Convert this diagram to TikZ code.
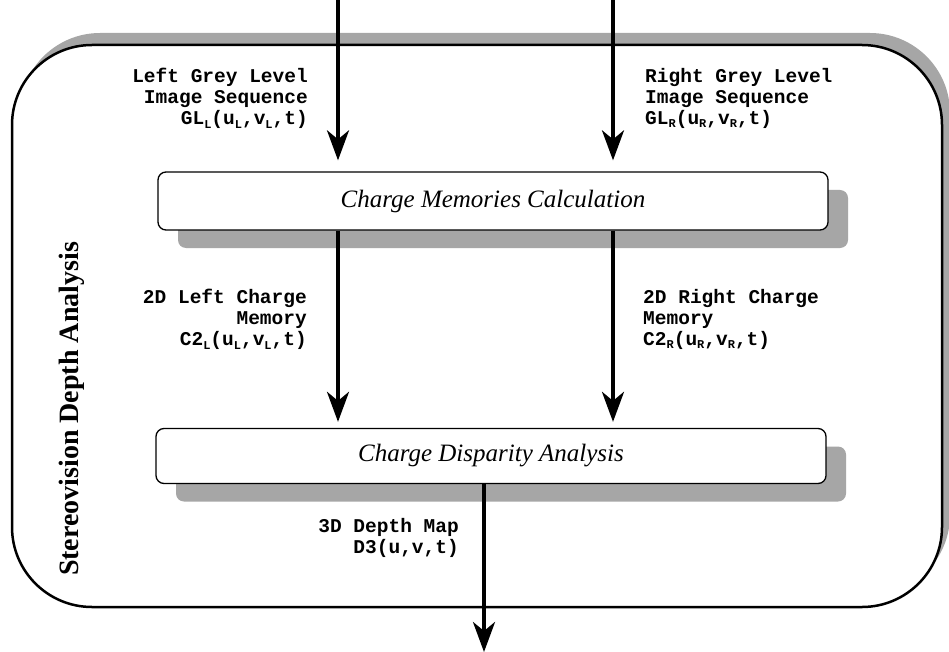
\documentclass[tikz,border=0pt]{standalone}
\usepackage{fontspec}
\setmainfont{Liberation Serif}
\setmonofont{Liberation Mono}
\usetikzlibrary{shapes, arrows.meta, positioning, calc, shadows}

\newcommand{\lsub}[1]{\raisebox{-0.35ex}{\fontsize{12}{12}\selectfont #1}}

\begin{document}
\begin{tikzpicture}[
			x=1pt, y=-1pt,
			frame/.style={rectangle, rounded corners=80pt, draw=black, line width=2.5pt, fill=white, minimum width=930pt, minimum height=562pt,
				drop shadow={shadow xshift=8pt, shadow yshift=12pt, fill=black!35, opacity=1}},
			stage/.style={rectangle, rounded corners=8pt, draw=black, line width=1.3pt, fill=white, minimum width=670pt, align=center,
				font=\itshape\fontsize{25}{27}\selectfont,
				drop shadow={shadow xshift=20pt, shadow yshift=-18pt, fill=black!35, opacity=1}},
			lbl/.style={inner sep=0pt, font=\ttfamily\bfseries\fontsize{19.5}{21}\selectfont},
			arrow/.style={-{Stealth[length=30pt, width=22pt, inset=9pt]}, line width=3.8pt}
			]
			\useasboundingbox (0,0) rectangle (949,652);
			
			\node[frame] (frame) at (477,326) {};
			\node[font=\bfseries\fontsize{28}{30}\selectfont, rotate=90] (title) at (72,409) {Stereovision Depth Analysis};
			
			\node[stage, minimum height=58pt] (mem) at (493,201) {Charge Memories Calculation};
			\node[stage, minimum height=55pt] (disp) at (491,456) {Charge Disparity Analysis};
			
			\coordinate (inL) at (338,0);
			\coordinate (inR) at (613,0);
			\coordinate (out) at (484,652);
			
			\draw[arrow, shorten >=11pt] (inL) -- (inL |- mem.north);
			\draw[arrow, shorten >=11pt] (inR) -- (inR |- mem.north);
			\draw[arrow, shorten >=6pt] (mem.south -| inL) -- (disp.north -| inL);
			\draw[arrow, shorten >=6pt] (mem.south -| inR) -- (disp.north -| inR);
			\draw[arrow] (disp.south -| out) -- (out);
			
			\node[lbl, align=right, anchor=north east] (glL) at (308,68) {Left Grey Level\\Image Sequence\\GL\lsub{L}(u\lsub{L},v\lsub{L},t)};
			\node[lbl, align=left, anchor=north west] (glR) at (645,68) {Right Grey Level\\Image Sequence\\GL\lsub{R}(u\lsub{R},v\lsub{R},t)};
			\node[lbl, align=right, anchor=north east] (c2L) at (307,289) {2D Left Charge\\Memory\\C2\lsub{L}(u\lsub{L},v\lsub{L},t)};
			\node[lbl, align=left, anchor=north west] (c2R) at (643,289) {2D Right Charge\\Memory\\C2\lsub{R}(u\lsub{R},v\lsub{R},t)};
			\node[lbl, align=right, anchor=north east] (d3) at (459,518) {3D Depth Map\\D3(u,v,t)};
		\end{tikzpicture}
\end{document}
